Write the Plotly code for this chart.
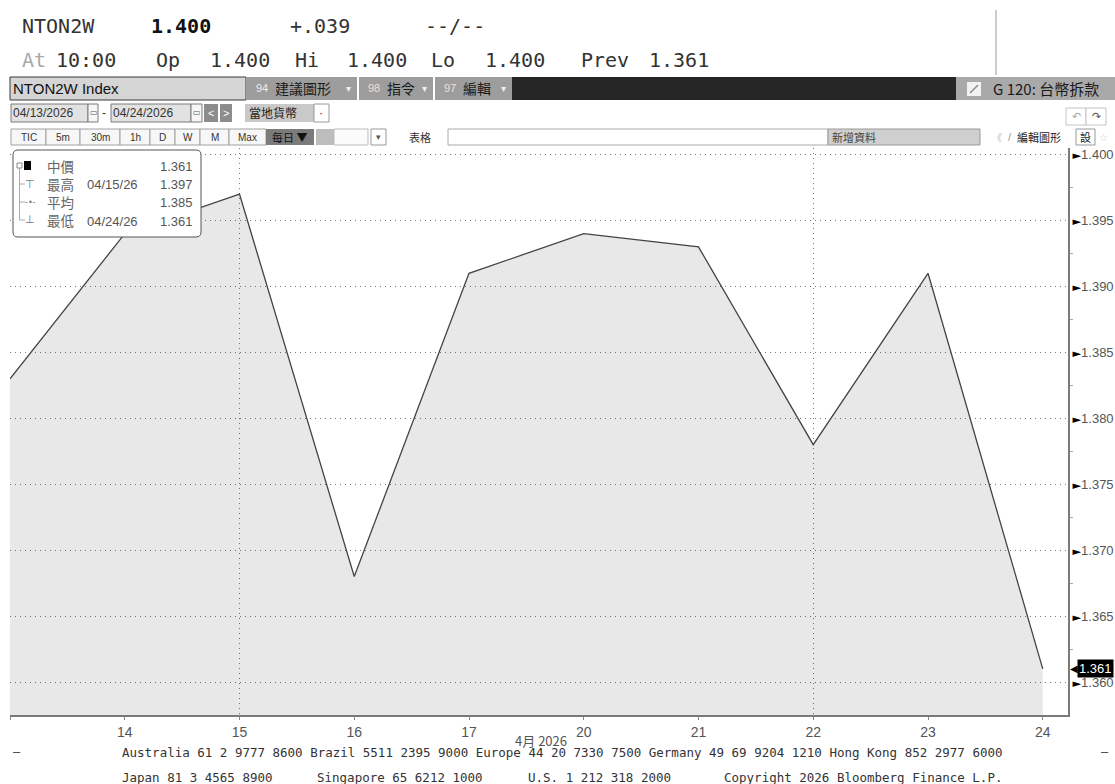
import plotly.graph_objects as go

W, H = 1115, 784

# ---------------- data ----------------
day_labels = ["13", "14", "15", "16", "17", "20", "21", "22", "23", "24"]
date_labels = ["04/13/26", "04/14/26", "04/15/26", "04/16/26", "04/17/26",
               "04/20/26", "04/21/26", "04/22/26", "04/23/26", "04/24/26"]
mid_rate = [1.383, 1.394, 1.397, 1.368, 1.391, 1.394, 1.393, 1.378, 1.391, 1.361]
y_tick_vals = [1.360, 1.365, 1.370, 1.375, 1.380, 1.385, 1.390, 1.395, 1.400]
x_grid_days = ["15", "22"]
month_label = "4月 2026"
legend_names = ["中價", "最高", "平均", "最低"]

header_row1 = ["NTON2W", "1.400", "+.039", "--/--"]
header_row2 = ["At", "10:00", "Op", "1.400", "Hi", "1.400", "Lo", "1.400", "Prev", "1.361"]
title_box = "NTON2W Index"
menu_items = [("94", "建議圖形"), ("98", "指令"), ("97", "編輯")]
right_title = "G 120: 台幣拆款"
date_from, date_to = "04/13/2026", "04/24/2026"
currency_label = "當地貨幣"
period_buttons = ["TIC", "5m", "30m", "1h", "D", "W", "M", "Max"]
freq_label = "每日 ▼"
table_label = "表格"
add_data_label = "新增資料"
edit_label = "編輯圖形"
settings_label = "設"
footer_row1 = ("Australia 61 2 9777 8600 Brazil 5511 2395 9000 Europe 44 20 7330 7500 "
               "Germany 49 69 9204 1210 Hong Kong 852 2977 6000")
footer_row2 = ["Japan 81 3 4565 8900", "Singapore 65 6212 1000",
               "U.S. 1 212 318 2000", "Copyright 2026 Bloomberg Finance L.P."]

# ---------------- helpers ----------------
MONO = "DejaVu Sans Mono"
SANS = "Liberation Sans, Arial, sans-serif"
CJK = "Noto Sans CJK TC, Noto Sans, sans-serif"


def X(px):
    return px / W


def Y(py):
    return 1 - py / H


shapes = []
annotations = []


def rect(x0, y0, x1, y1, fill, line=None, lw=1, layer="above"):
    shapes.append(dict(type="rect", xref="paper", yref="paper",
                       x0=X(x0), x1=X(x1), y0=Y(y1), y1=Y(y0),
                       fillcolor=fill,
                       line=dict(color=line if line else fill, width=lw if line else 0),
                       layer=layer))


def seg(x0, y0, x1, y1, color, w=1, dash="solid"):
    shapes.append(dict(type="line", xref="paper", yref="paper",
                       x0=X(x0), x1=X(x1), y0=Y(y0), y1=Y(y1),
                       line=dict(color=color, width=w, dash=dash), layer="above"))


def text(x, y, s, size=12, color="#333", family=SANS, anchor="left", bold=False):
    if bold:
        s = "<b>" + s + "</b>"
    annotations.append(dict(xref="paper", yref="paper", x=X(x), y=Y(y), text=s,
                            showarrow=False, xanchor=anchor, yanchor="middle",
                            borderpad=0,
                            font=dict(size=size, color=color, family=family)))


# ---------------- chart ----------------
idx = list(range(len(day_labels)))
grid_idx = [day_labels.index(d) for d in x_grid_days]

fig = go.Figure()
fig.add_trace(go.Scatter(x=idx, y=mid_rate, mode="lines",
                         line=dict(color="#444444", width=1.3),
                         fill="tozeroy", fillcolor="rgba(0,0,0,0.09)",
                         hoverinfo="skip", showlegend=False))
fig.add_trace(go.Scatter(x=idx, y=mid_rate, mode="none", xaxis="x2",
                         hoverinfo="skip", showlegend=False))

arrow = "<span style='font-family:DejaVu Sans;font-size:11px;fill:#000;color:#000'>►</span>"
y_tick_text = [arrow + f"{v:.3f}" for v in y_tick_vals]
step = y_tick_vals[1] - y_tick_vals[0]
minor_vals = [v + step / 2 for v in y_tick_vals]

x_dom = [X(10), X(1068)]
y_dom = [Y(715), Y(148)]
x_rng = [0, 9.22]
y_rng = [1.3575, 1.4005]
GRID_DASH = "1px,4px"

fig.update_layout(
    width=W, height=H, autosize=False,
    margin=dict(l=0, r=0, t=0, b=0),
    paper_bgcolor="white", plot_bgcolor="white",
    showlegend=False,
    xaxis=dict(domain=x_dom, range=x_rng, anchor="y",
               tickmode="array", tickvals=idx,
               ticktext=[""] + day_labels[1:],
               showgrid=False, zeroline=False,
               showline=True, linecolor="#7a7a7a", linewidth=2,
               ticks="outside", ticklen=3, tickcolor="#888",
               tickfont=dict(family=SANS, size=14, color="#555")),
    xaxis2=dict(domain=x_dom, range=x_rng, overlaying="x", anchor="y",
                tickmode="array", tickvals=grid_idx,
                showticklabels=False, ticks="", showline=False, zeroline=False,
                showgrid=True, gridcolor="#777", griddash=GRID_DASH, gridwidth=1),
    yaxis=dict(domain=y_dom, range=y_rng, side="right", anchor="x",
               tickmode="array", tickvals=y_tick_vals, ticktext=y_tick_text,
               showgrid=True, gridcolor="#777", griddash=GRID_DASH, gridwidth=1,
               zeroline=False, showline=True, linecolor="#7a7a7a", linewidth=2,
               ticks="", tickfont=dict(family=SANS, size=13, color="#555"),
               minor=dict(tickvals=minor_vals, ticks="outside", ticklen=3,
                          tickcolor="#aaa", tickwidth=1, showgrid=False)),
)

# last value tag
last = mid_rate[-1]
annotations.append(dict(xref="paper", yref="y", x=X(1077), y=last, text=f"{last:.3f}",
                        showarrow=False, xanchor="left", yanchor="middle",
                        bgcolor="#000", borderpad=1,
                        font=dict(family=SANS, size=13, color="#fff")))
annotations.append(dict(xref="paper", yref="y", x=X(1069), y=last, text="◀",
                        showarrow=False, xanchor="left", yanchor="middle", borderpad=0,
                        font=dict(family="DejaVu Sans", size=10, color="#000")))

# month label
text(541, 740, month_label, 13, "#555", CJK, anchor="center")

# ---------------- legend box ----------------
lx0, ly0, lx1, ly1, r = 13, 150, 201, 237, 5
path = (f"M {X(lx0 + r)},{Y(ly0)} L {X(lx1 - r)},{Y(ly0)} Q {X(lx1)},{Y(ly0)} {X(lx1)},{Y(ly0 + r)} "
        f"L {X(lx1)},{Y(ly1 - r)} Q {X(lx1)},{Y(ly1)} {X(lx1 - r)},{Y(ly1)} "
        f"L {X(lx0 + r)},{Y(ly1)} Q {X(lx0)},{Y(ly1)} {X(lx0)},{Y(ly1 - r)} "
        f"L {X(lx0)},{Y(ly0 + r)} Q {X(lx0)},{Y(ly0)} {X(lx0 + r)},{Y(ly0)} Z")
shapes.append(dict(type="path", xref="paper", yref="paper", path=path,
                   fillcolor="white", line=dict(color="#555", width=1), layer="above"))

i_max = mid_rate.index(max(mid_rate))
i_min = mid_rate.index(min(mid_rate))
avg = sum(mid_rate) / len(mid_rate)
rows_y = [166, 184, 202, 220]
legend_dates = ["", date_labels[i_max], "", date_labels[i_min]]
legend_vals = [mid_rate[-1], mid_rate[i_max], avg, mid_rate[i_min]]

# tree lines and icons
rect(17, 163, 22, 168, "white", "#888", 1)
seg(19.5, 168, 19.5, rows_y[3], "#aaa", 1)
for ry in rows_y[1:]:
    seg(19.5, ry, 25, ry, "#aaa", 1)
rect(24, 161, 31, 170, "#000")
text(30, rows_y[1], "⊤", 11, "#777", "DejaVu Sans", anchor="center")
text(30, rows_y[2], "-•-", 8, "#777", "DejaVu Sans", anchor="center")
text(30, rows_y[3], "⊥", 11, "#777", "DejaVu Sans", anchor="center")
for nm, dt, v, ry in zip(legend_names, legend_dates, legend_vals, rows_y):
    text(46, ry, nm, 13.5, "#666", CJK)
    if dt:
        text(86, ry + 1, dt, 13, "#555", SANS)
    text(194, ry + 1, f"{v:.3f}", 13, "#555", SANS, anchor="right")

# ---------------- header ----------------
r1y, r2y = 26, 60
r1x = [21, 150, 289, 424]
for s, x in zip(header_row1, r1x):
    text(x, r1y, s, 20, "#111" if s == header_row1[1] else "#333", MONO, bold=(s == header_row1[1]))
r2x = [21, 55, 155, 209, 294, 346, 430, 484, 580, 648]
for i, (s, x) in enumerate(zip(header_row2, r2x)):
    text(x, r2y, s, 20, "#aaa" if i == 0 else "#333", MONO)
seg(996, 10, 996, 75, "#999", 1)

# dark toolbar
rect(10, 77, 246, 100, "#d5d5d5", "#3a3a3a", 1)
text(12, 88.5, title_box, 15, "#111", SANS)
btn_x = [(247, 357), (359, 433), (435, 512)]
for (num, lbl), (bx0, bx1) in zip(menu_items, btn_x):
    rect(bx0, 77, bx1, 100, "#9d9d9d")
    text(bx0 + 8, 88.5, num, 11, "#ececec" if num == "94" else "#f1dfcf", SANS)
    text(bx0 + 27, 88.5, lbl, 14, "#1a1a1a", CJK)
    text(bx1 - 12, 89, "▾", 10, "#eee", "DejaVu Sans")
rect(512, 77, 956, 100, "#262626")
rect(956, 77, 1115, 100, "#a9a9a9")
rect(967, 82, 981, 96, "#f2f2f2")
seg(970, 93, 978, 85, "#888", 1.5)
text(992, 88.5, right_title, 15, "#1a1a1a", CJK)

# date row
dy0, dy1, dyc = 104, 122, 113
rect(11, dy0, 88, dy1, "#e2e2e2", "#7a7a7a")
text(12, dyc, date_from, 12, "#333", SANS)
rect(88, dy0, 98, dy1, "#f6f6f6", "#7a7a7a")
text(89, dyc, "▭", 8, "#555", "DejaVu Sans")
text(101, dyc, "-", 12, "#333", SANS)
rect(111, dy0, 191, dy1, "#e2e2e2", "#7a7a7a")
text(112, dyc, date_to, 12, "#333", SANS)
rect(191, dy0, 202, dy1, "#f6f6f6", "#7a7a7a")
text(192, dyc, "▭", 8, "#555", "DejaVu Sans")
rect(204, dy0, 218, dy1, "#8c8c8c")
text(211, dyc, "<", 11, "#fff", SANS, anchor="center")
rect(220, dy0, 232, dy1, "#8c8c8c")
text(226, dyc, ">", 11, "#fff", SANS, anchor="center")
rect(245, dy0, 314, dy1, "#c9c9c9")
text(248, dyc, currency_label, 12, "#222", CJK)
rect(314, dy0, 329, dy1, "#fff", "#999")
text(321, dyc, "·", 12, "#333", SANS, anchor="center")
rect(1066, 108, 1086, 125, "#fff", "#c4c4c4")
text(1076, 116, "↶", 11, "#aaa", "DejaVu Sans", anchor="center")
rect(1086, 108, 1106, 125, "#fff", "#c4c4c4")
text(1096, 116, "↷", 11, "#555", "DejaVu Sans", anchor="center")

# period row
ty0, ty1, tyc = 129, 145, 137
bounds = [11, 46, 80, 120, 150, 175, 200, 229, 266]
for lbl, bx0, bx1 in zip(period_buttons, bounds[:-1], bounds[1:]):
    rect(bx0, ty0, bx1, ty1, "#f7f7f7", "#a0a0a0")
    text((bx0 + bx1) / 2, tyc, lbl, 10, "#333", SANS, anchor="center")
rect(266, ty0, 314, ty1, "#7b7b7b")
text(290, tyc, freq_label, 11, "#111", CJK, anchor="center")
rect(316, ty0, 334, ty1, "#bdbdbd")
rect(334, ty0, 368, ty1, "#fbfbfb", "#bbb")
rect(371, ty0, 386, ty1, "#fff", "#999")
text(378.5, tyc, "▾", 9, "#555", "DejaVu Sans", anchor="center")
text(420, tyc, table_label, 11, "#333", CJK, anchor="center")
rect(448, ty0, 828, ty1, "#fff", "#aaa")
rect(828, ty0, 980, ty1, "#cfcfcf", "#999")
text(831, tyc, add_data_label, 11, "#444", CJK)
text(991, tyc, "《", 10, "#bbb", CJK)
text(1007, tyc, "/", 11, "#999", SANS)
text(1016, tyc, edit_label, 11, "#222", CJK)
rect(1076, ty0, 1095, ty1, "#fff", "#999")
text(1085.5, tyc, settings_label, 11, "#222", CJK, anchor="center")
text(1103, tyc, "☆", 10, "#ccc", "DejaVu Sans", anchor="center")

# ---------------- footer ----------------
text(12, 752, "—", 12, "#444", MONO)
text(1100, 752, "—", 12, "#444", MONO)
text(121, 752, footer_row1, 12.5, "#333", MONO)
for s, x in zip(footer_row2, [121, 316, 527, 723]):
    text(x, 777, s, 12.5, "#333", MONO)

fig.update_layout(shapes=shapes, annotations=annotations)
fig.write_html("out.html", config={"displayModeBar": False},
               post_script="document.body.style.margin='0px';")
